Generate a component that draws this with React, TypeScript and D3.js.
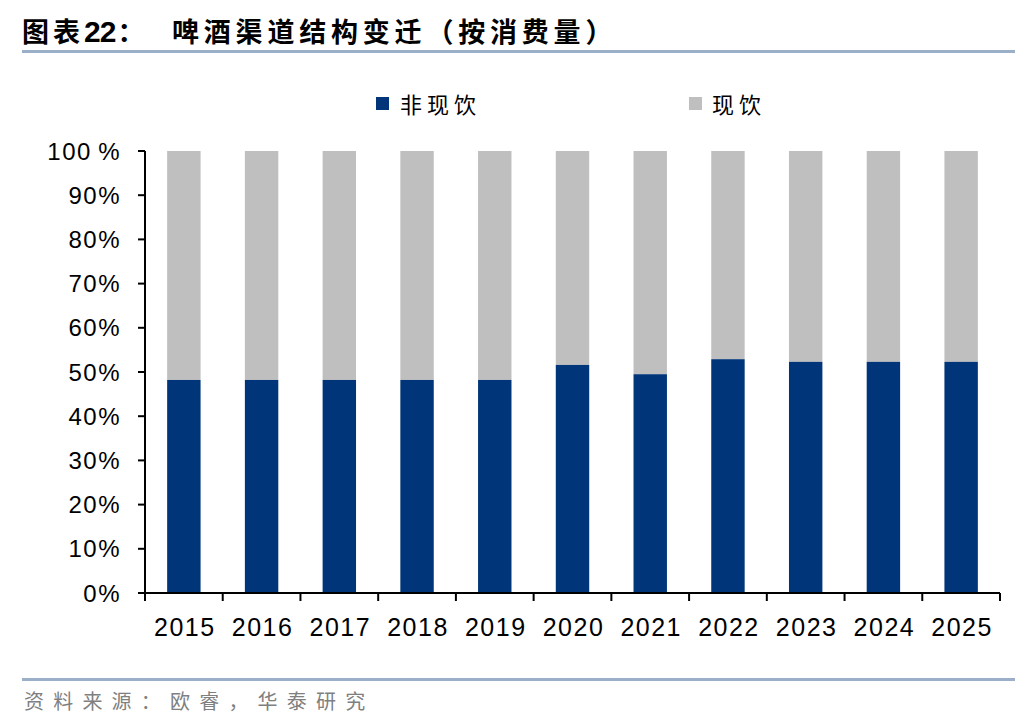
import React from "react";
import * as d3 from "d3";

const YEARS = ["2015", "2016", "2017", "2018", "2019", "2020", "2021", "2022", "2023", "2024", "2025"];
const OFF_PREMISE = [48.2, 48.2, 48.2, 48.2, 48.2, 51.6, 49.5, 52.9, 52.3, 52.3, 52.3];
const Y_TICKS = [0, 10, 20, 30, 40, 50, 60, 70, 80, 90, 100];

const WIDTH = 1036;
const HEIGHT = 728;
const MARGIN = { top: 151, right: 36, bottom: 135, left: 145 };
const NAVY = "#003679";
const GREY = "#bfbfbf";
const RULE = "#9bb0c8";
const CJK = "'Noto Sans CJK SC', sans-serif";
const LATIN = "'Liberation Sans', Arial, sans-serif";

export default function App() {
  const boundsWidth = WIDTH - MARGIN.left - MARGIN.right;
  const boundsHeight = HEIGHT - MARGIN.top - MARGIN.bottom;

  const xScale = d3.scaleBand().domain(YEARS).range([0, boundsWidth]).paddingInner(0.57).paddingOuter(0.285);
  const yScale = d3.scaleLinear().domain([0, 100]).range([boundsHeight, 0]);
  const step = xScale.step();
  const bandStart = xScale(YEARS[0])! - step * 0.285;

  return (
    <svg width={WIDTH} height={HEIGHT} style={{ position: "absolute", left: 0, top: 0 }}>
      <rect width={WIDTH} height={HEIGHT} fill="#fff" />
      {/* title */}
      <text x={22} y={42} fontFamily={CJK} fontWeight={600} fontSize={27} letterSpacing={4} fill="#000">
        图表<tspan fontFamily={LATIN} fontWeight="bold" fontSize={30} letterSpacing={-1}>22</tspan><tspan dx={2}>：</tspan>
      </text>
      <text x={172} y={42} fontFamily={CJK} fontWeight={600} fontSize={27} letterSpacing={4.8} fill="#000">
        啤酒渠道结构变迁（按消费量）
      </text>
      <rect x={22} y={50} width={993} height={3} fill={RULE} />

      {/* legend */}
      <rect x={376} y={97} width={13} height={13} fill={NAVY} />
      <text x={400} y={113} fontFamily={CJK} fontSize={22} letterSpacing={5}>非现饮</text>
      <rect x={689} y={97} width={13} height={13} fill={GREY} />
      <text x={712} y={113} fontFamily={CJK} fontSize={22} letterSpacing={5}>现饮</text>

      <g transform={`translate(${MARGIN.left},${MARGIN.top})`}>
        {YEARS.map((year, i) => (
          <g key={year}>
            <rect
              x={xScale(year)}
              y={yScale(100)}
              width={xScale.bandwidth()}
              height={yScale(OFF_PREMISE[i]) - yScale(100)}
              fill={GREY}
            />
            <rect
              x={xScale(year)}
              y={yScale(OFF_PREMISE[i])}
              width={xScale.bandwidth()}
              height={boundsHeight - yScale(OFF_PREMISE[i])}
              fill={NAVY}
            />
          </g>
        ))}

        <line x1={0} x2={0} y1={0} y2={boundsHeight} stroke="#000" strokeWidth={2} />
        {Y_TICKS.map((t) => (
          <g key={t} transform={`translate(0,${yScale(t)})`}>
            <line x1={-7} x2={0} stroke="#000" strokeWidth={2} />
            <text x={-24} dy="0.36em" textAnchor="end" fontFamily={LATIN} fontSize={24} letterSpacing={1.5}>
              {t === 100 ? "100\u2009%" : `${t}%`}
            </text>
          </g>
        ))}

        <line x1={0} x2={boundsWidth} y1={boundsHeight} y2={boundsHeight} stroke="#000" strokeWidth={2} />
        {d3.range(YEARS.length + 1).map((i) => (
          <line
            key={i}
            x1={bandStart + i * step}
            x2={bandStart + i * step}
            y1={boundsHeight}
            y2={boundsHeight + 8}
            stroke="#000"
            strokeWidth={2}
          />
        ))}
        {YEARS.map((year) => (
          <text
            key={year}
            x={xScale(year)! + xScale.bandwidth() / 2 + 1}
            y={boundsHeight + 43}
            textAnchor="middle"
            fontFamily={LATIN}
            fontSize={25}
            letterSpacing={1.5}
          >
            {year}
          </text>
        ))}
      </g>

      {/* footer */}
      <rect x={22} y={678} width={993} height={3} fill={RULE} />
      <text x={24} y={709} fontFamily={CJK} fontSize={20} fill="#7f7f7f" letterSpacing={9.2}>
        资料来源：欧睿，华泰研究
      </text>
    </svg>
  );
}
